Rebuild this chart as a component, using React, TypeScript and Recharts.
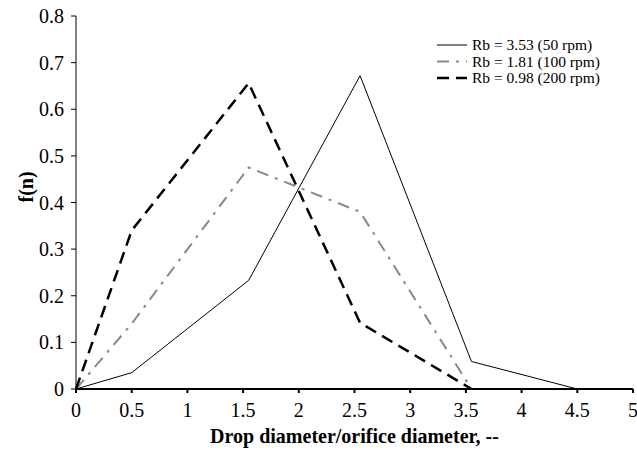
import React from 'react';
import { LineChart, Line, XAxis, YAxis, Legend } from 'recharts';

// x positions of the measured points (drop diameter / orifice diameter)
const xValues = [0, 0.5, 1.55, 2.55, 3.55, 4.5];

// f(n) for each rotor speed
const rb353 = [0, 0.035, 0.233, 0.672, 0.059, 0];
const rb181 = [0, 0.14, 0.475, 0.38, 0, 0];
const rb098 = [0, 0.34, 0.656, 0.142, 0, null];

const xTicks = [0, 0.5, 1, 1.5, 2, 2.5, 3, 3.5, 4, 4.5, 5];
const yTicks = [0, 0.1, 0.2, 0.3, 0.4, 0.5, 0.6, 0.7, 0.8];

const seriesNames = ['Rb = 3.53 (50 rpm)', 'Rb = 1.81 (100 rpm)', 'Rb = 0.98 (200 rpm)'];

const data = xValues.map((x, i) => ({
    x,
    a: rb353[i],
    b: rb181[i],
    c: rb098[i],
}));

const font = '"Liberation Serif", "Times New Roman", serif';

const legendItems = [
    { name: seriesNames[0], stroke: '#000', width: 1, dash: undefined },
    { name: seriesNames[1], stroke: '#888', width: 2, dash: '12 7 3 7' },
    { name: seriesNames[2], stroke: '#000', width: 2.5, dash: '12 7' },
];

const LegendBox = () => (
    <svg width={200} height={76}>
        {legendItems.map((it, i) => (
            <g key={it.name} transform={`translate(0, ${18 + i * 16.5})`}>
                <line x1={0} x2={30} y1={0} y2={0} stroke={it.stroke} strokeWidth={it.width} strokeDasharray={it.dash} />
                <text x={35} y={5} fontSize={15.5} fontFamily={font} fill="#000">
                    {it.name}
                </text>
            </g>
        ))}
    </svg>
);

const XTick = (props: any) => {
    const { x, y, payload } = props;
    return (
        <text x={x} y={y + 22} textAnchor="middle" fontSize={20} fontFamily={font} fill="#000">
            {String(payload.value)}
        </text>
    );
};

const YTick = (props: any) => {
    const { x, y, payload } = props;
    return (
        <text x={x - 5} y={y + 7} textAnchor="end" fontSize={20} fontFamily={font} fill="#000">
            {String(payload.value)}
        </text>
    );
};

const App: React.FC = () => {
    return (
        <div style={{ position: 'absolute', left: 0, top: 0, background: '#fff', fontFamily: font }}>
            <LineChart width={637} height={450} data={data} margin={{ top: 16, right: 4, left: 0, bottom: 0 }}>
                <XAxis
                    dataKey="x"
                    type="number"
                    domain={[0, 5]}
                    ticks={xTicks}
                    interval={0}
                    stroke="#000"
                    strokeWidth={2}
                    tickSize={4}
                    height={61}
                    tick={<XTick />}
                    label={{
                        value: 'Drop diameter/orifice diameter, --',
                        position: 'insideBottom',
                        offset: 7,
                        fill: '#000',
                        fontSize: 20,
                        fontWeight: 'bold',
                        fontFamily: font,
                    }}
                />
                <YAxis
                    type="number"
                    domain={[0, 0.8]}
                    ticks={yTicks}
                    interval={0}
                    width={76}
                    stroke="#000"
                    tickSize={5}
                    tick={<YTick />}
                    label={{
                        value: 'f(n)',
                        angle: -90,
                        position: 'insideLeft',
                        offset: 26,
                        fill: '#000',
                        fontSize: 20,
                        fontWeight: 'bold',
                        fontFamily: font,
                    }}
                />
                <Legend
                    layout="horizontal"
                    verticalAlign="middle"
                    align="center"
                    content={() => <LegendBox />}
                    wrapperStyle={{ top: 27, left: 437, width: 200 }}
                />
                <Line
                    dataKey="a"
                    name={seriesNames[0]}
                    stroke="#000"
                    strokeWidth={1}
                    dot={false}
                    type="linear"
                    isAnimationActive={false}
                />
                <Line
                    dataKey="b"
                    name={seriesNames[1]}
                    stroke="#888"
                    strokeWidth={2}
                    strokeDasharray="12 7 3 7"
                    dot={false}
                    type="linear"
                    isAnimationActive={false}
                />
                <Line
                    dataKey="c"
                    name={seriesNames[2]}
                    stroke="#000"
                    strokeWidth={2.5}
                    strokeDasharray="12 7"
                    dot={false}
                    type="linear"
                    isAnimationActive={false}
                />
            </LineChart>
        </div>
    );
};

export default App;
